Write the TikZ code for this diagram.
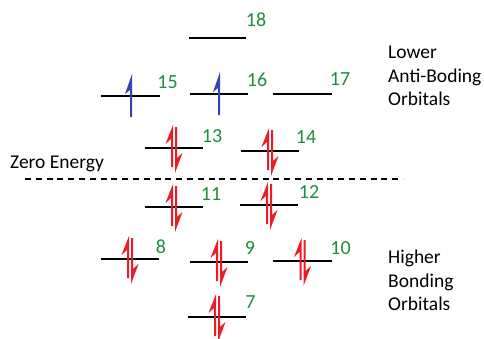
\documentclass[tikz,border=0pt]{standalone}
\usepackage{fontspec}
\usetikzlibrary{calc}
\setmainfont{Carlito}
\definecolor{numgreen}{RGB}{30,140,60}
\definecolor{elred}{RGB}{237,28,36}
\definecolor{elblue}{RGB}{50,70,175}
\tikzset{
  lvl/.style={line width=2pt, black},
  num/.style={text=numgreen, font=\fontsize{20}{22}\selectfont, inner sep=0pt},
  lbl/.style={font=\fontsize{19.5}{22}\selectfont, inner sep=0pt, anchor=base west},
  pair/.pic={
    \fill[elred] (-1,-23) -- (-1,19) -- (-3,19) -- (-3,-9) -- (-8.5,-4) -- cycle;
    \fill[elred] (1,-21) -- (3,-21) -- (3,10) -- (8.5,5) -- (1,25) -- cycle;
  },
  single/.pic={
    \fill[elblue] (1,-22) -- (1,21) -- (-1,21) -- (-1,-6) -- (-6,-2) -- cycle;
  }
}
\begin{document}
\begin{tikzpicture}[x=1pt,y=-1pt]
\useasboundingbox (0,0) rectangle (484,338);
% levels
\coordinate (l18a) at (189,38);  \coordinate (l18b) at (246,38);
\coordinate (l15a) at (101,96);  \coordinate (l15b) at (160,96);
\coordinate (l16a) at (190,94);  \coordinate (l16b) at (248,94);
\coordinate (l17a) at (273,94);  \coordinate (l17b) at (332,94);
\coordinate (l13a) at (145,148); \coordinate (l13b) at (203,148);
\coordinate (l14a) at (241,151); \coordinate (l14b) at (299,151);
\coordinate (l11a) at (145,207); \coordinate (l11b) at (203,207);
\coordinate (l12a) at (240,205); \coordinate (l12b) at (298,205);
\coordinate (l8a) at (101,259);  \coordinate (l8b) at (159,259);
\coordinate (l9a) at (190,262);  \coordinate (l9b) at (248,262);
\coordinate (l10a) at (273,261); \coordinate (l10b) at (332,261);
\coordinate (l7a) at (188,317);  \coordinate (l7b) at (246,317);
\foreach \n in {18,15,16,17,13,14,11,12,8,9,10,7}{
  \draw[lvl] (l\n a) -- (l\n b);
}
% electrons
\pic at (131,96) {single};
\pic at (219,94) {single};
\foreach \n in {13,14,11,12,8,9,10,7}{
  \pic at ($(l\n a)!0.5!(l\n b)$) {pair};
}
% dashed zero line
\coordinate (z1) at (25,179); \coordinate (z2) at (403,179);
\draw[line width=1.6pt, dash pattern=on 6pt off 4.8pt] (z1) -- (z2);
% numbers
\node[num] (n18) at (256,20) {18};
\node[num] (n15) at (167.5,82) {15};
\node[num] (n16) at (257,80) {16};
\node[num] (n17) at (340,79) {17};
\node[num] (n13) at (212,136) {13};
\node[num] (n14) at (306,137) {14};
\node[num] (n11) at (211,194) {11};
\node[num] (n12) at (309,192) {12};
\node[num] (n8) at (161,247) {8};
\node[num] (n9) at (250,248) {9};
\node[num] (n10) at (340.5,248) {10};
\node[num] (n7) at (250.5,302) {7};
% text labels
\node[lbl] (zero) at (10,168) {Zero Energy};
\node[lbl] (la) at (388,58) {Lower};
\node[lbl] (lb) at (388,82) {Anti-Boding};
\node[lbl] (lc) at (388,105) {Orbitals};
\node[lbl] (ha) at (388,263) {Higher};
\node[lbl] (hb) at (388,287) {Bonding};
\node[lbl] (hc) at (388,310) {Orbitals};
\end{tikzpicture}
\end{document}
